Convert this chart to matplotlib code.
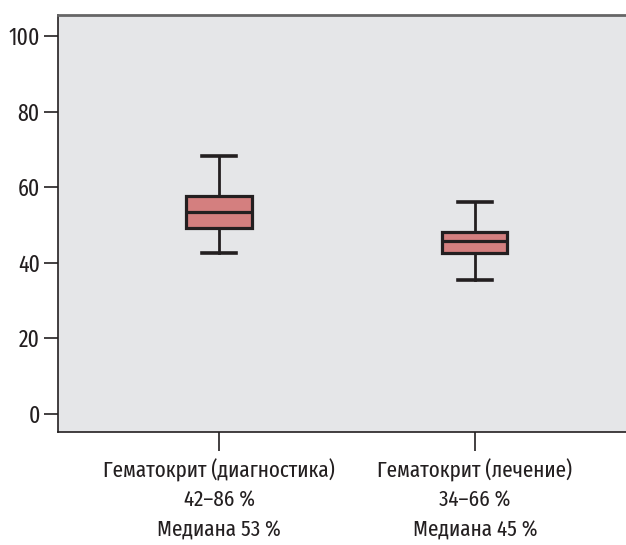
import matplotlib
matplotlib.use("Agg")
import matplotlib.pyplot as plt

categories = ["Гематокрит (диагностика)\n42–86 %\nМедиана 53 %",
              "Гематокрит (лечение)\n34–66 %\nМедиана 45 %"]
whislo = [42.6, 35.4]
q1 = [49.2, 42.6]
med = [53.4, 45.8]
q3 = [57.7, 48.1]
whishi = [68.3, 56.1]
yticks = [0, 20, 40, 60, 80, 100]

plt.rcParams['font.family'] = ["Fira Sans Extra Condensed", "DejaVu Sans"]

fig = plt.figure(figsize=(6.26, 5.45), dpi=100)
ax = fig.add_axes([58/626, (545-432)/545, 1 - 58/626, (432-15)/545])
ax.set_facecolor("#e5e6e8")

stats = []
for i in range(2):
    stats.append(dict(whislo=whislo[i], q1=q1[i], med=med[i], q3=q3[i],
                      whishi=whishi[i], fliers=[]))

dark = "#231f20"
ax.bxp(stats, positions=[1, 2], widths=0.254, patch_artist=True, capwidths=0.135,
       boxprops=dict(facecolor="#d47f7f", edgecolor=dark, linewidth=2.3),
       medianprops=dict(color=dark, linewidth=2.3),
       whiskerprops=dict(color=dark, linewidth=2.0),
       capprops=dict(color=dark, linewidth=2.6))

ax.set_xlim(0.371, 2.59)
ax.set_ylim(-4.8, 105.6)
ax.set_yticks(yticks)
ax.set_xticks([1, 2])
ax.set_xticklabels(categories, linespacing=1.5)
ax.tick_params(axis='y', length=10, width=1.2, color=dark, labelsize=17,
               labelcolor=dark, pad=3)
ax.tick_params(axis='x', length=14, width=1.2, color=dark, labelsize=16.5,
               labelcolor=dark, pad=5)
for s in ["left", "bottom"]:
    ax.spines[s].set_color(dark)
    ax.spines[s].set_linewidth(1.2)
ax.spines["top"].set_color("#666666")
ax.spines["top"].set_linewidth(2)
ax.spines["right"].set_visible(False)

fig.savefig("out.png", dpi=100)
